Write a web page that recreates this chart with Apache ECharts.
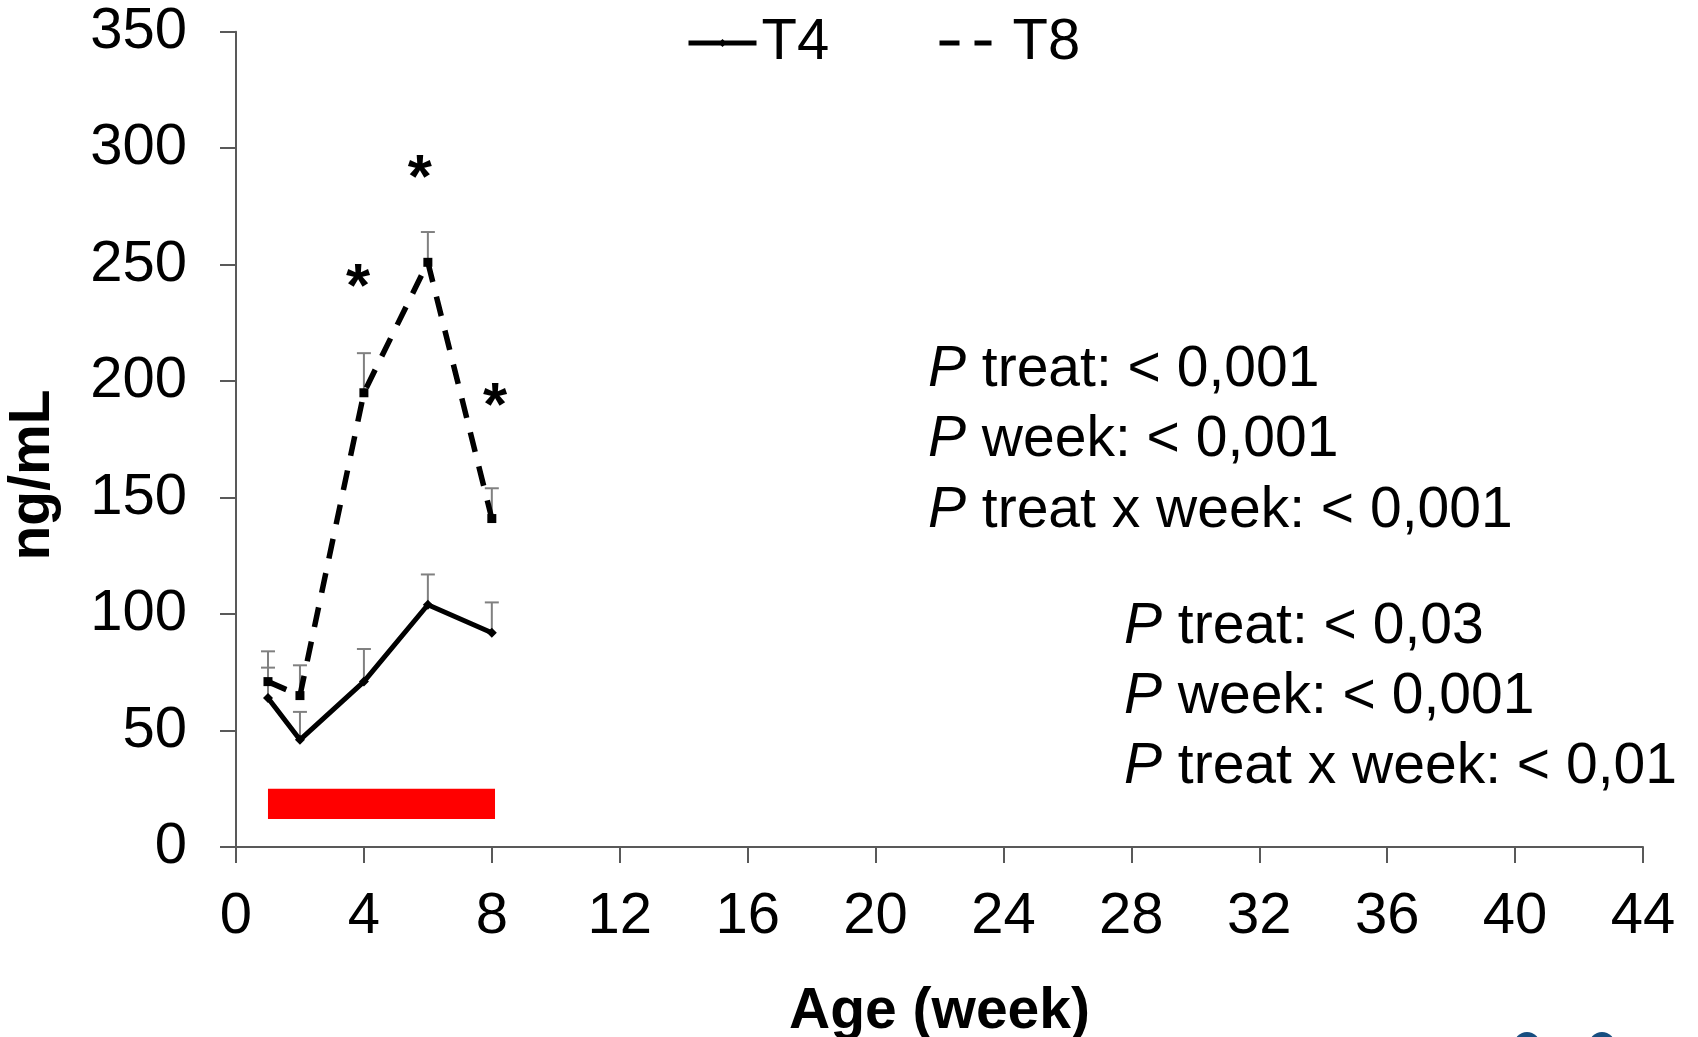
<!DOCTYPE html>
<html>
<head>
<meta charset="utf-8">
<title>ng/mL by age</title>
<script src="https://cdn.jsdelivr.net/npm/echarts@6/dist/echarts.min.js"></script>
<style>
  html, body { margin: 0; padding: 0; background: #fff; }
  #chart { width: 1698px; height: 1037px; }
</style>
</head>
<body>
<div id="chart"></div>
<script>
// values
const weeks = [1, 2, 4, 6, 8];
const t4Mean = [64, 46, 71, 104, 92];
const t4Upper = [77, 58, 85, 117, 105];
const t8Mean = [71, 65, 195, 251, 141];
const t8Upper = [84, 78, 212, 264, 154];

// significance marks (week, value)
const starWeeks = [3.82, 5.75, 8.1];
const starValues = [245, 292, 194];

// treatment period bar
const treatmentWeeks = [1, 8.1];
const treatmentRange = [12, 25];

const statsT8 = ["treat: < 0,001", "week: < 0,001", "treat x week: < 0,001"];
const statsT4 = ["treat: < 0,03", "week: < 0,001", "treat x week: < 0,01"];

const FONT = '"Liberation Sans", Arial, Helvetica, sans-serif';
const AXIS_GRAY = "#595959";
const ERR_GRAY = "#808080";

const pairs = (ys) => weeks.map((w, i) => [w, ys[i]]);

const errorBars = (name, means, uppers) => ({
  type: "custom",
  name: name + " sem",
  silent: true,
  z: 1,
  data: weeks.map((w, i) => [w, means[i], uppers[i]]),
  renderItem: (params, api) => {
    const base = api.coord([api.value(0), api.value(1)]);
    const top = api.coord([api.value(0), api.value(2)]);
    const style = { stroke: ERR_GRAY, lineWidth: 2 };
    return {
      type: "group",
      children: [
        { type: "line", shape: { x1: base[0], y1: base[1], x2: top[0], y2: top[1] }, style },
        { type: "line", shape: { x1: top[0] - 7, y1: top[1], x2: top[0] + 7, y2: top[1] }, style },
      ],
    };
  },
});

const statsText = (lines) => lines.map((s) => "{i|P} " + s).join("\n");

const legendText = { fontSize: 58, color: "#000", fontFamily: FONT };

const buildOption = () => ({
  animation: false,
  backgroundColor: "#fff",
  textStyle: { fontFamily: FONT },
  grid: { left: 236, right: 55, top: 31.7, bottom: 190, outerBoundsMode: "none", containLabel: false },
  legend: [
    {
      data: ["T4"],
      left: 681,
      top: 9,
      itemWidth: 68,
      itemHeight: 10,
      selectedMode: false,
      lineStyle: { width: 5 },
      textStyle: legendText,
    },
    {
      data: [{ name: "T8", itemStyle: { opacity: 0 } }],
      left: 932,
      top: 9,
      itemWidth: 52,
      itemHeight: 10,
      selectedMode: false,
      lineStyle: { width: 5 },
      textStyle: { ...legendText, padding: [0, 0, 0, 16] },
    },
  ],
  xAxis: {
    type: "value",
    min: 0,
    max: 44,
    interval: 4,
    name: "Age (week)",
    nameLocation: "middle",
    nameGap: 137,
    nameTextStyle: { fontSize: 57, fontWeight: "bold", color: "#000", fontFamily: FONT },
    splitLine: { show: false },
    axisLine: { lineStyle: { color: AXIS_GRAY, width: 2 } },
    axisTick: { length: 16, lineStyle: { color: AXIS_GRAY, width: 2 } },
    axisLabel: { fontSize: 58, color: "#000", margin: 41, fontFamily: FONT },
  },
  yAxis: {
    type: "value",
    min: 0,
    max: 350,
    interval: 50,
    splitLine: { show: false },
    axisLine: { show: true, lineStyle: { color: AXIS_GRAY, width: 2 } },
    axisTick: { show: true, length: 16, lineStyle: { color: AXIS_GRAY, width: 2 } },
    axisLabel: { fontSize: 58, color: "#000", margin: 49, fontFamily: FONT },
  },
  series: [
    errorBars("T4", t4Mean, t4Upper),
    errorBars("T8", t8Mean, t8Upper),
    {
      type: "line",
      name: "T4",
      data: pairs(t4Mean),
      symbol: "diamond",
      symbolSize: 10,
      color: "#000",
      lineStyle: { color: "#000", width: 5 },
      itemStyle: { color: "#000" },
      z: 3,
      markArea: {
        silent: true,
        itemStyle: { color: "#ff0000", opacity: 1 },
        data: [[
          { xAxis: treatmentWeeks[0], yAxis: treatmentRange[1] },
          { xAxis: treatmentWeeks[1], yAxis: treatmentRange[0] },
        ]],
      },
    },
    {
      type: "line",
      name: "T8",
      data: pairs(t8Mean),
      symbol: "rect",
      symbolSize: 9,
      color: "#000",
      lineStyle: { color: "#000", width: 5.5, type: [20, 15] },
      itemStyle: { color: "#000" },
      z: 3,
    },
    {
      type: "custom",
      name: "signif",
      silent: true,
      data: starWeeks.map((w, i) => [w, starValues[i]]),
      renderItem: (params, api) => {
        const p = api.coord([api.value(0), api.value(1)]);
        return {
          type: "text",
          x: p[0],
          y: p[1] + 13,
          style: {
            text: "*",
            fontSize: 62,
            fontWeight: "bold",
            fontFamily: FONT,
            fill: "#000",
            align: "center",
            verticalAlign: "middle",
          },
        };
      },
    },
  ],
  graphic: {
    elements: [
      {
        type: "text",
        x: 33,
        y: 475,
        rotation: Math.PI / 2,
        style: {
          text: "ng/mL",
          fontSize: 57,
          fontWeight: "bold",
          fontFamily: FONT,
          fill: "#000",
          align: "center",
          verticalAlign: "middle",
        },
      },
      {
        type: "text",
        x: 928,
        y: 334.8,
        style: {
          text: statsText(statsT8),
          fontSize: 57,
          fontFamily: FONT,
          fill: "#000",
          lineHeight: 70.5,
          rich: { i: { fontStyle: "italic", fontSize: 57, fontFamily: FONT, lineHeight: 70.5 } },
        },
      },
      {
        type: "text",
        x: 1124,
        y: 592,
        style: {
          text: statsText(statsT4),
          fontSize: 57,
          fontFamily: FONT,
          fill: "#000",
          lineHeight: 70,
          rich: { i: { fontStyle: "italic", fontSize: 57, fontFamily: FONT, lineHeight: 70 } },
        },
      },
      { type: "circle", shape: { cx: 1527, cy: 1045, r: 13 }, style: { fill: "#174e80" } },
      { type: "circle", shape: { cx: 1602, cy: 1045, r: 13 }, style: { fill: "#174e80" } },
    ],
  },
});

const chart = echarts.init(document.getElementById("chart"));
chart.setOption(buildOption());
window.addEventListener("resize", () => chart.resize());
</script>
</body>
</html>
